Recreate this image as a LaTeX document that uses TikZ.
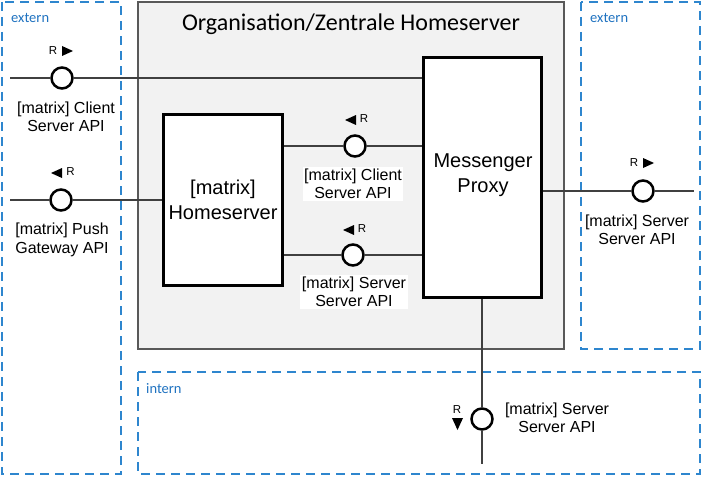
\documentclass[tikz,border=0pt]{standalone}
\usepackage{fontspec}
\setmainfont{Liberation Sans}
\newfontfamily\calfont{Carlito}
\definecolor{zoneblue}{RGB}{46,134,206}
\definecolor{zonetext}{RGB}{31,114,192}
\begin{document}
\begin{tikzpicture}[x=1pt,y=-1pt,
  dashbox/.style={draw=zoneblue, line width=1.8pt, dash pattern=on 9pt off 6pt},
  graybox/.style={draw=black!65, fill=black!5, line width=1.3pt},
  compbox/.style={draw=black, fill=white, line width=2.8pt, align=center, font=\fontsize{20}{25}\selectfont, inner sep=0pt},
  iface/.style={circle, draw=black, fill=white, line width=2.5pt, minimum size=21pt, inner sep=0pt},
  conn/.style={draw=black!75, line width=1.3pt},
  lbl/.style={align=center, font=\fontsize{16}{18.5}\selectfont, inner sep=1.5pt},
  wlbl/.style={lbl, fill=white},
  rlbl/.style={font=\fontsize{11.5}{12}\selectfont, inner sep=0pt},
  zone/.style={text=zonetext, font=\calfont\fontsize{14.5}{16}\selectfont, anchor=west, inner sep=0pt},
  triright/.pic={\fill (-5.5,-5) -- (5.5,0) -- (-5.5,5) -- cycle;},
  trileft/.pic={\fill (5.5,-5) -- (-5.5,0) -- (5.5,5) -- cycle;},
  tridown/.pic={\fill (-5.5,-6) -- (5.5,-6) -- (0,6) -- cycle;}
]
\useasboundingbox (0,0) rectangle (703,476);
% zones
\draw[graybox] (138,2) rectangle (564,349);
\draw[dashbox] (2,2) rectangle (121,474);
\draw[dashbox] (581,2) rectangle (700,349);
\draw[dashbox] (138,372) rectangle (700,474);
\node[zone] (zl) at (11,18) {extern};
\node[zone] (zr) at (590,18) {extern};
\node[zone] (zi) at (146,389) {intern};
\node[font=\calfont\fontsize{24}{28}\selectfont, inner sep=0pt] (title) at (351,24) {Organisation/Zentrale Homeserver};
% components
\node[compbox, minimum width=119pt, minimum height=171pt] (hs) at (223,200) {[matrix]\\Homeserver};
\node[compbox, minimum width=118pt, minimum height=240pt] (proxy) at (482.5,177.5) {};
\node[align=center, font=\fontsize{20}{25}\selectfont, inner sep=0pt] (ptext) at (483,175) {Messenger\\Proxy};
% interface circles
\node[iface] (c1) at (62,78) {};
\node[iface] (c2) at (61,200) {};
\node[iface] (c3) at (355,146) {};
\node[iface] (c4) at (353,255) {};
\node[iface] (c5) at (643,191) {};
\node[iface] (c6) at (482,419) {};
\coordinate (e1) at (10,78);
\coordinate (e2) at (10,200);
\coordinate (e5) at (694,191);
\coordinate (e6) at (482,464);
% connectors
\draw[conn] (e1) -- (c1);
\draw[conn] (c1) -- (c1 -| proxy.west);
\draw[conn] (e2) -- (c2);
\draw[conn] (c2) -- (c2 -| hs.west);
\draw[conn] (c3 -| hs.east) -- (c3);
\draw[conn] (c3) -- (c3 -| proxy.west);
\draw[conn] (c4 -| hs.east) -- (c4);
\draw[conn] (c4) -- (c4 -| proxy.west);
\draw[conn] (proxy.east |- c5) -- (c5);
\draw[conn] (c5) -- (e5);
\draw[conn] (proxy.south -| c6) -- (c6);
\draw[conn] (c6) -- (e6);
% R markers
\node[rlbl] (r1) at (53,51) {R};  \pic at (67.5,51) {triright};
\node[rlbl] (r2) at (70.5,172) {R}; \pic at (56.5,173) {trileft};
\node[rlbl] (r3) at (364,119) {R}; \pic at (350.5,120) {trileft};
\node[rlbl] (r4) at (362,229) {R}; \pic at (348.5,230) {trileft};
\node[rlbl] (r5) at (634,162.5) {R}; \pic at (648.5,163) {triright};
\node[rlbl] (r6) at (457,409.5) {R}; \pic at (457.5,424) {tridown};
% labels
\node[lbl] (l1) at (66,117) {[matrix] Client\\Server API};
\node[lbl] (l2) at (62,240) {[matrix] Push\\Gateway API};
\node[wlbl] (l3) at (353,184) {[matrix] Client\\Server API};
\node[wlbl] (l4) at (354,292) {[matrix] Server\\Server API};
\node[lbl] (l5) at (637,230) {[matrix] Server\\Server API};
\node[lbl] (l6) at (557,418) {[matrix] Server\\Server API};
\end{tikzpicture}
\end{document}
